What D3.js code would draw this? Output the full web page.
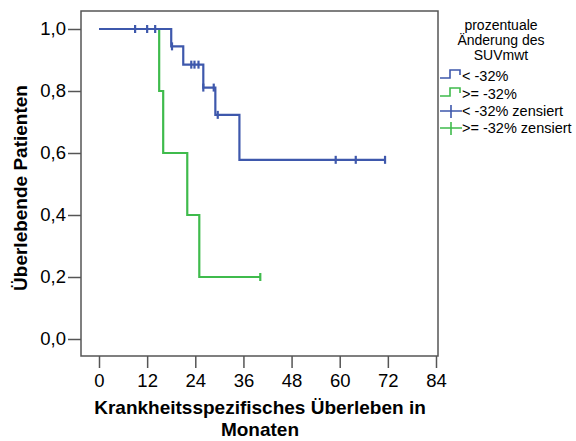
<!DOCTYPE html>
<html>
<head>
<meta charset="utf-8">
<script src="https://cdn.jsdelivr.net/npm/d3@7"></script>
<style>
  body { margin: 0; background: #fff; }
  text { font-family: Arial, "Liberation Sans", sans-serif; fill: #000; }
</style>
</head>
<body>
<div id="chart"></div>
<script>
// tick values
var xTicks = [0, 12, 24, 36, 48, 60, 72, 84];
var yTicks = [0, 0.2, 0.4, 0.6, 0.8, 1.0];

// group "< -32%": event times and survival after each drop
var lowTimes = [18, 21, 26, 29, 35];
var lowSurv = [0.944, 0.885, 0.811, 0.723, 0.578];
var lowCensor = [9, 12, 14, 18.2, 23, 23.8, 24.8, 26, 28.6, 29.6, 59, 64, 71.3];
var lowEnd = 71.3;

// group ">= -32%"
var highTimes = [15, 16, 22, 25];
var highSurv = [0.8, 0.6, 0.4, 0.2];
var highCensor = [40.2];
var highEnd = 40.2;

var legendTitle = ["prozentuale", "Änderung des", "SUVmwt"];
var legendLabels = ["< -32%", ">= -32%", "< -32% zensiert", ">= -32% zensiert"];

var blue = "#3e58ac", green = "#3fbb4c", frameColor = "#555";

var svg = d3.select("#chart").append("svg")
    .attr("width", 576)
    .attr("height", 441);

var xScale = d3.scaleLinear().domain([0, 84]).range([99, 436]);
var yScale = d3.scaleLinear().domain([0, 1]).range([339, 29]);

// plot frame
svg.append("rect")
    .attr("x", 81).attr("y", 11)
    .attr("width", 357).attr("height", 345)
    .attr("fill", "none")
    .attr("stroke", frameColor)
    .attr("stroke-width", 1.5);

// x axis ticks sit below the frame
var xAxis = svg.append("g")
    .attr("transform", "translate(0,356)")
    .call(d3.axisBottom(xScale).tickValues(xTicks).tickSize(12).tickPadding(6).tickFormat(d3.format("d")));
xAxis.select(".domain").remove();
xAxis.selectAll("line").attr("stroke", frameColor).attr("stroke-width", 1.5);
xAxis.selectAll("text").attr("font-size", 18.5).attr("font-family", "Arial, 'Liberation Sans', sans-serif").attr("fill", "#000");

var yAxis = svg.append("g")
    .attr("transform", "translate(81,0)")
    .call(d3.axisLeft(yScale).tickValues(yTicks).tickSize(13).tickPadding(2)
        .tickFormat(d => d3.format(".1f")(d).replace(".", ",")));
yAxis.select(".domain").remove();
yAxis.selectAll("line").attr("stroke", frameColor).attr("stroke-width", 1.5);
yAxis.selectAll("text").attr("font-size", 18.5).attr("font-family", "Arial, 'Liberation Sans', sans-serif").attr("fill", "#000");

// axis titles
svg.append("text")
    .attr("x", 260).attr("y", 414)
    .attr("text-anchor", "middle")
    .attr("font-size", 19).attr("font-weight", "bold")
    .text("Krankheitsspezifisches Überleben in");
svg.append("text")
    .attr("x", 260).attr("y", 436)
    .attr("text-anchor", "middle")
    .attr("font-size", 19).attr("font-weight", "bold")
    .text("Monaten");
svg.append("text")
    .attr("transform", "translate(27,188) rotate(-90)")
    .attr("text-anchor", "middle")
    .attr("font-size", 19).attr("font-weight", "bold")
    .text("Überlebende Patienten");

// step curves
function stepPoints(times, surv, end) {
    var pts = [[0, 1]];
    times.forEach((t, i) => pts.push([t, surv[i]]));
    pts.push([end, surv[surv.length - 1]]);
    return pts;
}
function survAt(times, surv, t) {
    var s = 1;
    times.forEach((tt, i) => { if (tt <= t) s = surv[i]; });
    return s;
}

var line = d3.line()
    .x(d => xScale(d[0]))
    .y(d => yScale(d[1]))
    .curve(d3.curveStepAfter);

var groups = [
    { times: highTimes, surv: highSurv, censor: highCensor, end: highEnd, color: green },
    { times: lowTimes, surv: lowSurv, censor: lowCensor, end: lowEnd, color: blue }
];

groups.forEach(g => {
    svg.append("path")
        .datum(stepPoints(g.times, g.surv, g.end))
        .attr("d", line)
        .attr("fill", "none")
        .attr("stroke", g.color)
        .attr("stroke-width", 2.2);

    svg.selectAll(null)
        .data(g.censor)
        .enter()
        .append("line")
        .attr("x1", d => xScale(d)).attr("x2", d => xScale(d))
        .attr("y1", d => yScale(survAt(g.times, g.surv, d)) - 4)
        .attr("y2", d => yScale(survAt(g.times, g.surv, d)) + 4)
        .attr("stroke", g.color)
        .attr("stroke-width", 2.2);
});

// legend
var legend = svg.append("g");
legend.selectAll(".ltitle")
    .data(legendTitle)
    .enter()
    .append("text")
    .attr("x", 501)
    .attr("y", (d, i) => 30 + i * 15)
    .attr("text-anchor", "middle")
    .attr("font-size", 14)
    .text(d => d);

var legendColors = [blue, green, blue, green];
var rowY = [78, 96, 113, 130];

legendLabels.forEach((lab, i) => {
    var y = rowY[i];
    if (i < 2) {
        legend.append("path")
            .attr("d", `M440,${y} H450 V${y - 8} H460 V${y - 3}`)
            .attr("fill", "none")
            .attr("stroke", legendColors[i])
            .attr("stroke-width", 1.6);
    } else {
        legend.append("path")
            .attr("d", `M440,${y - 2} H462 M451,${y - 8} V${y + 5}`)
            .attr("fill", "none")
            .attr("stroke", legendColors[i])
            .attr("stroke-width", 1.6);
    }
    legend.append("text")
        .attr("x", 462)
        .attr("y", y + 3)
        .attr("font-size", 14.5)
        .text(lab);
});
</script>
</body>
</html>
